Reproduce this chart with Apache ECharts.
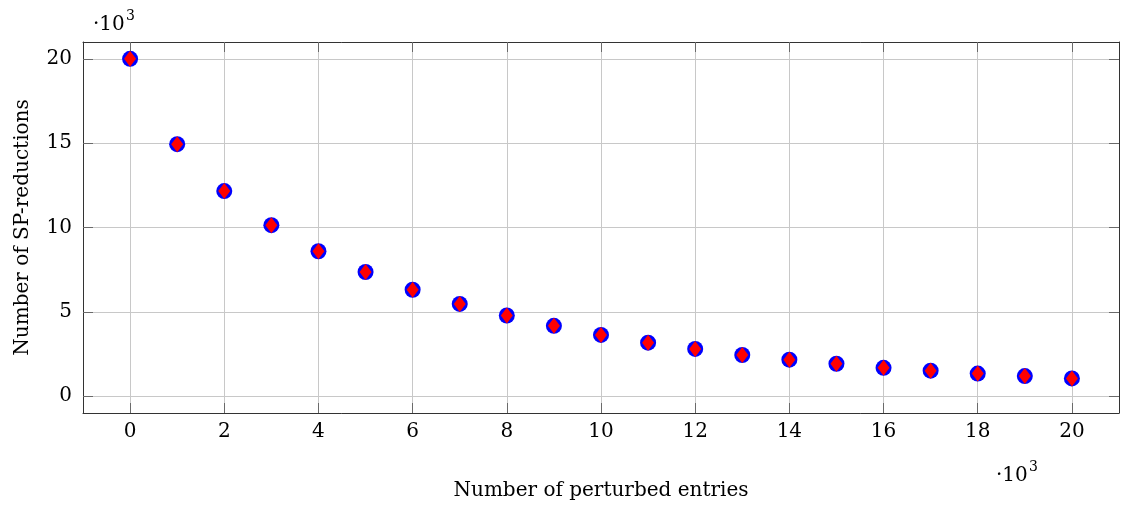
<!DOCTYPE html>
<html>
<head>
<meta charset="utf-8">
<script src="https://cdn.jsdelivr.net/npm/echarts@6/dist/echarts.min.js"></script>
<style>
  html, body { margin: 0; padding: 0; background: #fff; }
  #chart { width: 1121px; height: 510px; }
</style>
</head>
<body>
<div id="chart"></div>
<script>
// perturbed entries vs SP-reductions (raw counts, shown as x10^3)
const perturbed = [0, 1000, 2000, 3000, 4000, 5000, 6000, 7000, 8000, 9000, 10000,
  11000, 12000, 13000, 14000, 15000, 16000, 17000, 18000, 19000, 20000];
const reductions = [20000, 14940, 12160, 10140, 8590, 7360, 6310, 5470, 4780, 4170, 3630,
  3170, 2800, 2440, 2160, 1920, 1680, 1510, 1340, 1190, 1050];
const xTicks = [0, 2000, 4000, 6000, 8000, 10000, 12000, 14000, 16000, 18000, 20000];
const yTicks = [0, 5000, 10000, 15000, 20000];

const font = 'DejaVu Serif';
const points = perturbed.map((x, i) => [x, reductions[i]]);

const chart = echarts.init(document.getElementById('chart'));

const tickStyle = { show: true, inside: true, length: 10, lineStyle: { color: '#6a6a6a', width: 1 } };
const gridLine = { show: true, lineStyle: { color: '#c8c8c8', width: 1, type: 'solid' } };
const labelStyle = { color: '#000', fontFamily: font, fontSize: 20 };
const boxLine = { show: true, onZero: false, lineStyle: { color: '#333', width: 1 } };

// little "·10^3" marks, drawn as two texts so the 3 sits up high
function power(x, y) {
  return {
    type: 'group', left: x, top: y,
    children: [
      { type: 'text', x: 0, y: 6, style: { text: '·10', fill: '#000', font: '20px "DejaVu Serif"' } },
      { type: 'text', x: 33, y: 0, style: { text: '3', fill: '#000', font: '14px "DejaVu Serif"' } }
    ]
  };
}

let option = {
  animation: false,
  grid: {
    left: 83, right: 2, top: 42, bottom: 97,
    show: false
  },
  xAxis: [
    {
      type: 'value', min: -1000, max: 21000, position: 'bottom',
      axisLine: boxLine,
      axisTick: Object.assign({ customValues: xTicks }, tickStyle),
      axisLabel: Object.assign({ customValues: xTicks, margin: 9, formatter: v => String(v / 1000) }, labelStyle),
      splitLine: gridLine,
      name: 'Number of perturbed entries', nameLocation: 'middle', nameGap: 68,
      nameTextStyle: labelStyle
    },
    {
      type: 'value', min: -1000, max: 21000, position: 'top',
      axisLine: boxLine,
      axisTick: Object.assign({ customValues: xTicks }, tickStyle),
      axisLabel: { show: false, customValues: xTicks },
      splitLine: { show: false }
    }
  ],
  yAxis: [
    {
      type: 'value', min: -1000, max: 21000, position: 'left',
      axisLine: boxLine,
      axisTick: Object.assign({ customValues: yTicks }, tickStyle),
      axisLabel: Object.assign({ customValues: yTicks, margin: 11, formatter: v => String(v / 1000) }, labelStyle),
      splitLine: gridLine,
      name: 'Number of SP-reductions', nameLocation: 'middle', nameGap: 50,
      nameTextStyle: labelStyle
    },
    {
      type: 'value', min: -1000, max: 21000, position: 'right',
      axisLine: boxLine,
      axisTick: Object.assign({ customValues: yTicks }, tickStyle),
      axisLabel: { show: false, customValues: yTicks },
      splitLine: { show: false }
    }
  ],
  graphic: [power(93, 9), power(996, 460)],
  series: [
    {
      type: 'scatter', xAxisIndex: 0, yAxisIndex: 0,
      symbol: 'circle', symbolSize: 16,
      itemStyle: { color: '#0000ff', opacity: 1 },
      data: points, z: 3
    },
    {
      type: 'scatter', xAxisIndex: 0, yAxisIndex: 0,
      symbol: 'diamond', symbolSize: [12, 16],
      itemStyle: { color: '#ff0000', opacity: 1 },
      data: points, z: 4
    }
  ]
};

chart.setOption(option);
</script>
</body>
</html>
